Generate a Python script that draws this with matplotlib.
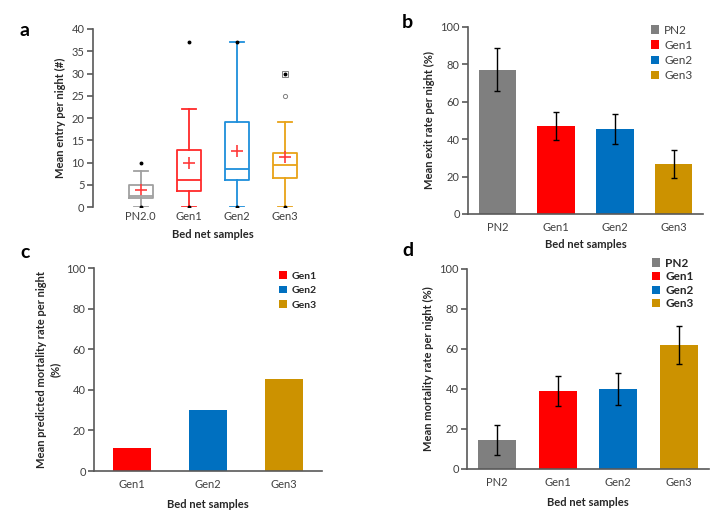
import matplotlib
matplotlib.use("Agg")
import matplotlib.pyplot as plt
from matplotlib.patches import Patch

plt.rcParams['font.family'] = ['Lato', 'DejaVu Sans']

# ---------- data ----------
box_cats = ["PN2.0", "Gen1", "Gen2", "Gen3"]
box_whislo = [0, 0, 0, 0]
box_q1 = [2.0, 3.5, 6.1, 6.5]
box_med = [2.5, 6.0, 8.5, 9.5]
box_q3 = [5.0, 12.7, 19.0, 12.2]
box_whishi = [8, 22, 37, 19]
box_mean = [3.8, 10.0, 12.5, 11.2]
box_min = [0, 0, 0, 0]
box_max = [10, 37, 37, 30]
box_open_outliers = [[], [], [], [25, 30]]

exit_cats = ["PN2", "Gen1", "Gen2", "Gen3"]
exit_vals = [77.2, 47.2, 45.6, 26.6]
exit_err = [11.3, 7.6, 8.0, 7.4]

pred_cats = ["Gen1", "Gen2", "Gen3"]
pred_vals = [11.3, 30.0, 45.2]

mort_cats = ["PN2", "Gen1", "Gen2", "Gen3"]
mort_vals = [14.5, 39.0, 39.8, 62.0]
mort_err = [7.3, 7.7, 8.0, 9.5]

bar_colors = {"PN2": "#7F7F7F", "Gen1": "#FF0000", "Gen2": "#0070C0", "Gen3": "#CC9200"}
box_colors = ["#A0A0A0", "#FF2A2A", "#1E8FDB", "#E8A317"]

AX_COL = "#595959"
TXT_COL = "#404040"
LAB_COL = "#262626"

fig = plt.figure(figsize=(7.25, 5.16), dpi=100)

def style(ax, xaxis=True):
    for s in ["top", "right"]:
        ax.spines[s].set_visible(False)
    for s in ["left", "bottom"]:
        ax.spines[s].set_color(AX_COL)
        ax.spines[s].set_linewidth(1.2)
    if not xaxis:
        ax.spines["bottom"].set_visible(False)
    ax.tick_params(axis="y", colors=AX_COL, labelcolor=TXT_COL, labelsize=8, length=4, width=1.2, pad=2)
    ax.tick_params(axis="x", length=0, labelcolor=TXT_COL, labelsize=8, pad=6)

# ---------- panel a ----------
axa = fig.add_axes([0.128, 0.5988, 0.331, 0.345])
for i in range(len(box_cats)):
    st = dict(label=box_cats[i], whislo=box_whislo[i], q1=box_q1[i], med=box_med[i],
              q3=box_q3[i], whishi=box_whishi[i], fliers=[])
    c = box_colors[i]
    axa.bxp([st], positions=[i + 1], widths=0.5, showmeans=False, showfliers=False,
            boxprops=dict(color=c, linewidth=1.3), medianprops=dict(color=c, linewidth=1.3),
            whiskerprops=dict(color=c, linewidth=1.3), capprops=dict(color=c, linewidth=1.3),
            capwidths=0.3)
    axa.plot([i + 1], [box_mean[i]], marker="+", color="#FF3B3B", markersize=8, mew=1.2, ls="none")
    for v in box_open_outliers[i]:
        axa.plot([i + 1], [v], "o" if v != box_max[i] else "s", mfc="white", mec="#808080",
                 markersize=3 if v != box_max[i] else 3.8, mew=0.7, ls="none")
    axa.plot([i + 1, i + 1], [box_min[i], box_max[i]], "o", color="black", markersize=1.8, ls="none")
axa.set_xlim(0, 5)
axa.set_ylim(0, 40)
axa.set_yticks(range(0, 41, 5))
axa.set_xticks([1, 2, 3, 4])
axa.set_xticklabels(box_cats)
style(axa, xaxis=False)
axa.tick_params(axis="x", pad=3)
axa.set_ylabel("Mean entry per night (#)", fontsize=8, fontweight="bold", color=LAB_COL, labelpad=4)
axa.set_xlabel("Bed net samples", fontsize=8, fontweight="bold", color=LAB_COL, labelpad=5)

# ---------- panel b ----------
axb = fig.add_axes([0.6455, 0.5853, 0.324, 0.3624])
xb = list(range(len(exit_cats)))
axb.bar(xb, exit_vals, width=0.64, color=[bar_colors[c] for c in exit_cats])
axb.errorbar(xb, exit_vals, yerr=exit_err, fmt="none", ecolor="black", elinewidth=1, capsize=2.5, capthick=1)
axb.set_xlim(-0.5, 3.5)
axb.set_ylim(0, 100)
axb.set_yticks(range(0, 101, 20))
axb.set_xticks(xb)
axb.set_xticklabels(exit_cats)
style(axb)
axb.set_ylabel("Mean exit rate per night (%)", fontsize=8, fontweight="bold", color=LAB_COL, labelpad=4)
axb.set_xlabel("Bed net samples", fontsize=8, fontweight="bold", color=LAB_COL, labelpad=4)
hb = [Patch(facecolor=bar_colors[c], edgecolor="none") for c in exit_cats]
axb.legend(hb, exit_cats, loc="upper right", bbox_to_anchor=(1.0, 1.07), frameon=False, fontsize=8.5,
           handlelength=0.7, handleheight=0.7, handletextpad=0.4, labelspacing=0.35, labelcolor=TXT_COL)

# ---------- panel c ----------
axc = fig.add_axes([0.1297, 0.0872, 0.3145, 0.3934])
xc = list(range(len(pred_cats)))
axc.bar(xc, pred_vals, width=0.5, color=[bar_colors[c] for c in pred_cats])
axc.set_xlim(-0.5, 2.5)
axc.set_ylim(0, 100)
axc.set_yticks(range(0, 101, 20))
axc.set_xticks(xc)
axc.set_xticklabels(pred_cats)
style(axc)
axc.set_ylabel("Mean predicted mortality rate per night\n(%)", fontsize=8, fontweight="bold", color=LAB_COL,
               labelpad=4, linespacing=1.3)
axc.set_xlabel("Bed net samples", fontsize=8, fontweight="bold", color=LAB_COL, labelpad=6)
hc = [Patch(facecolor=bar_colors[c], edgecolor="none") for c in pred_cats]
axc.legend(hc, pred_cats, loc="upper right", bbox_to_anchor=(1.02, 1.03), frameon=False,
           prop=dict(size=7.5, weight="bold"), handlelength=0.7, handleheight=0.7, handletextpad=0.5,
           labelspacing=0.5, labelcolor=LAB_COL)

# ---------- panel d ----------
axd = fig.add_axes([0.6441, 0.0911, 0.3338, 0.3876])
xd = list(range(len(mort_cats)))
axd.bar(xd, mort_vals, width=0.63, color=[bar_colors[c] for c in mort_cats])
axd.errorbar(xd, mort_vals, yerr=mort_err, fmt="none", ecolor="black", elinewidth=1, capsize=2.5, capthick=1)
axd.set_xlim(-0.5, 3.5)
axd.set_ylim(0, 100)
axd.set_yticks(range(0, 101, 20))
axd.set_xticks(xd)
axd.set_xticklabels(mort_cats)
style(axd)
axd.set_ylabel("Mean mortality rate per night (%)", fontsize=8, fontweight="bold", color=LAB_COL, labelpad=4)
axd.set_xlabel("Bed net samples", fontsize=8, fontweight="bold", color=LAB_COL, labelpad=6)
hd = [Patch(facecolor=bar_colors[c], edgecolor="none") for c in mort_cats]
axd.legend(hd, mort_cats, loc="upper right", bbox_to_anchor=(0.98, 1.11), frameon=False,
           prop=dict(size=8.5, weight="bold"), handlelength=0.7, handleheight=0.7, handletextpad=0.4,
           labelspacing=0.22, labelcolor=LAB_COL)

# panel letters
fig.text(20 / 725, 1 - 30 / 516, "a", fontsize=14, fontweight="bold", va="center", ha="left")
fig.text(402 / 725, 1 - 23 / 516, "b", fontsize=14, fontweight="bold", va="center", ha="left")
fig.text(20 / 725, 1 - 253 / 516, "c", fontsize=14, fontweight="bold", va="center", ha="left")
fig.text(402 / 725, 1 - 250 / 516, "d", fontsize=14, fontweight="bold", va="center", ha="left")

fig.savefig("out.png", dpi=100, facecolor="white")
